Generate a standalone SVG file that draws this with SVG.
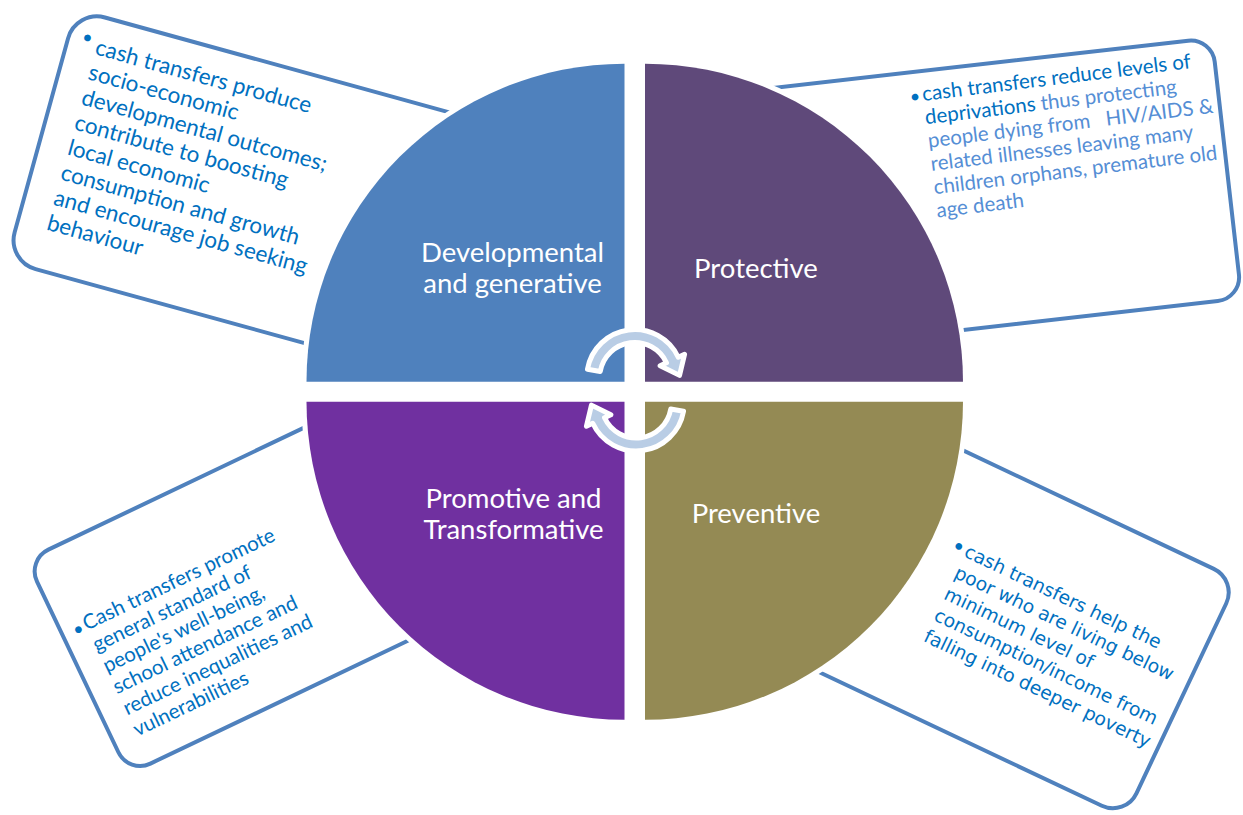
<svg xmlns="http://www.w3.org/2000/svg" width="1243" height="815" viewBox="0 0 1243 815">
<style>
.box{fill:#fff;stroke:#4F81BD;stroke-width:4}
.q{stroke:#fff;stroke-width:10;paint-order:stroke}
.lbl{font-family:Lato,'Liberation Sans',sans-serif;font-size:27.5px;fill:#fff;text-anchor:middle}
.t{font-family:Lato,'Liberation Sans',sans-serif;fill:#0070C0}
.t4{font-family:'DejaVu Sans',sans-serif;font-size:18.7px;fill:#0070C0}
.lt{fill:#558ED5}
.bul{font-family:Lato,'Liberation Sans',sans-serif;font-size:18px;fill:#0070C0;text-anchor:middle}
.arr{fill:#B9CDE5;stroke:#fff;stroke-width:5;stroke-linejoin:round}
</style>
<rect width="1243" height="815" fill="#fff"/>

<g id="callout-developmental">
<rect class="box" transform="translate(76,9.5) rotate(15.4)" width="420" height="261" rx="30"/>
<g transform="translate(94,54) rotate(15.4)">
<text class="bul" x="-10.5" y="-8.5">•</text>
<text class="t" font-size="22.5"><tspan x="0" y="0">cash transfers produce</tspan><tspan x="0" y="26">socio-economic</tspan><tspan x="0" y="52">developmental outcomes;</tspan><tspan x="0" y="78">contribute to boosting</tspan><tspan x="0" y="104">local economic</tspan><tspan x="0" y="130">consumption and growth</tspan><tspan x="0" y="156">and encourage job seeking</tspan><tspan x="0" y="182">behaviour</tspan></text>
</g>
</g>

<g id="callout-protective">
<rect class="box" transform="translate(1212,38) rotate(-6.5)" x="-520" width="520" height="262" rx="24"/>
<g transform="translate(923,101) rotate(-7)">
<text class="bul" x="-7.5" y="0.5">•</text>
<text class="t" font-size="20.5" xml:space="preserve"><tspan x="0" y="0">cash transfers reduce levels of</tspan><tspan x="0" y="23.5">deprivations<tspan class="lt"> thus protecting</tspan></tspan><tspan class="lt" x="0" y="47">people dying from   HIV/AIDS &amp;</tspan><tspan class="lt" x="0" y="70.5">related illnesses leaving many</tspan><tspan class="lt" x="0" y="94">children orphans, premature old</tspan><tspan class="lt" x="0" y="117.5">age death</tspan></text>
</g>
</g>

<g id="callout-promotive">
<rect class="box" transform="translate(26.7,560) rotate(-25.5)" width="350" height="237" rx="24"/>
<g transform="translate(86.7,630.7) rotate(-25.5)">
<text class="bul" x="-7" y="1">•</text>
<text class="t" font-size="20.5"><tspan x="0" y="0">Cash transfers promote</tspan><tspan x="0" y="23.5">general standard of</tspan><tspan x="0" y="47">people's well-being,</tspan><tspan x="0" y="70.5">school attendance and</tspan><tspan x="0" y="94">reduce inequalities and</tspan><tspan x="0" y="117.5">vulnerabilities</tspan></text>
</g>
</g>

<g id="callout-preventive">
<rect class="box" transform="translate(1237.3,580) rotate(25.3)" x="-376" width="376" height="262" rx="26"/>
<g transform="translate(963,556) rotate(25.5)">
<text class="bul" x="-8" y="-1.5">•</text>
<text class="t4"><tspan x="0" y="0">cash transfers help the</tspan><tspan x="0" y="23.5">poor who are living below</tspan><tspan x="0" y="47">minimum level of</tspan><tspan x="0" y="70.5">consumption/income from</tspan><tspan x="0" y="94">falling into deeper poverty</tspan></text>
</g>
</g>

<g id="node-developmental">
<path class="q" fill="#4F81BD" d="M624.5,381.7 H306.5 A318,318 0 0 1 624.5,63.7 Z"/>
<text class="lbl"><tspan x="512.5" y="262">Developmental</tspan><tspan x="512.5" y="293">and generative</tspan></text>
</g>
<g id="node-protective">
<path class="q" fill="#5F497A" d="M645,381.7 V63.7 A318,318 0 0 1 963,381.7 Z"/>
<text class="lbl" x="756" y="278">Protective</text>
</g>
<g id="node-preventive">
<path class="q" fill="#948A54" d="M645,401.7 H963 A318,318 0 0 1 645,719.7 Z"/>
<text class="lbl" x="756" y="522.5">Preventive</text>
</g>
<g id="node-promotive">
<path class="q" fill="#7030A0" d="M624.5,401.7 V719.7 A318,318 0 0 1 306.5,401.7 Z"/>
<text class="lbl"><tspan x="513.5" y="508">Promotive and</tspan><tspan x="513.5" y="538.5">Transformative</tspan></text>
</g>

<g id="connectors">
<path id="arrow-top" class="arr" d="M587.48,369.17 A48,48 0 0 1 678.25,357.22 L684.6,354.26 L679.54,375.37 L660.13,365.67 L666.47,362.71 A35,35 0 0 0 600.28,371.42 Z"/>
<path id="arrow-bottom" class="arr" transform="rotate(180,635.5,390.25)" d="M587.48,369.17 A48,48 0 0 1 678.25,357.22 L684.6,354.26 L679.54,375.37 L660.13,365.67 L666.47,362.71 A35,35 0 0 0 600.28,371.42 Z"/>
</g>
</svg>
